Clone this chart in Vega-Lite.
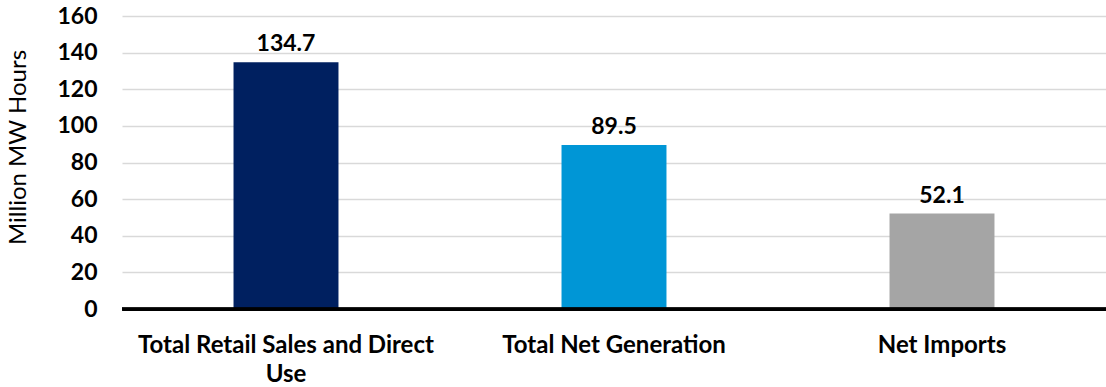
{
  "$schema": "https://vega.github.io/schema/vega-lite/v6.json",
  "width": 984,
  "height": 293,
  "autosize": "none",
  "padding": {"left": 122, "top": 16, "right": 0, "bottom": 78},
  "background": "white",
  "data": {
    "values": [
      {"category": "Total Retail Sales and Direct Use", "value": 134.7, "color": "#002060"},
      {"category": "Total Net Generation", "value": 89.5, "color": "#0096D6"},
      {"category": "Net Imports", "value": 52.1, "color": "#A5A5A5"}
    ]
  },
  "config": {
    "view": {"stroke": null},
    "font": "Lato"
  },
  "encoding": {
    "x": {
      "field": "category",
      "type": "nominal",
      "sort": null,
      "scale": {"paddingInner": 0.68, "paddingOuter": 0.34},
      "axis": {
        "title": null,
        "labelAngle": 0,
        "labelFont": "Lato",
        "labelFontWeight": "bold",
        "labelFontSize": 24,
        "labelColor": "black",
        "labelPadding": 24,
        "labelBaseline": "top",
        "labelLineHeight": 29,
        "labelLimit": 0,
        "labelExpr": "datum.label == 'Total Retail Sales and Direct Use' ? ['Total Retail Sales and Direct', 'Use'] : datum.label",
        "ticks": false,
        "domainColor": "black",
        "domainWidth": 3,
        "grid": false
      }
    },
    "y": {
      "field": "value",
      "type": "quantitative",
      "scale": {"domain": [0, 160], "nice": false},
      "axis": {
        "values": [0, 20, 40, 60, 80, 100, 120, 140, 160],
        "title": "Million MW Hours",
        "titleFont": "Lato",
        "titleFontWeight": "normal",
        "titleFontSize": 24,
        "titleColor": "black",
        "titleX": -97,
        "titleY": 131,
        "titleAngle": -90,
        "titleAlign": "center",
        "titleBaseline": "alphabetic",
        "labelFont": "Lato",
        "labelFontWeight": "bold",
        "labelFontSize": 23,
        "labelColor": "black",
        "labelPadding": 25,
        "labelLimit": 0,
        "ticks": false,
        "domain": false,
        "grid": true,
        "gridColor": "#D9D9D9",
        "gridWidth": 1.5
      }
    }
  },
  "layer": [
    {
      "mark": {"type": "bar"},
      "encoding": {
        "color": {"field": "color", "type": "nominal", "scale": null, "legend": null}
      }
    },
    {
      "mark": {"type": "text", "baseline": "alphabetic", "dy": -11, "font": "Lato", "fontWeight": "bold", "fontSize": 23, "color": "black"},
      "encoding": {
        "text": {"field": "value", "type": "quantitative", "format": ".1f"}
      }
    },
    {
      "mark": {"type": "rule", "color": "black", "strokeWidth": 3},
      "encoding": {"y": {"datum": 0}, "x": null}
    }
  ]
}
